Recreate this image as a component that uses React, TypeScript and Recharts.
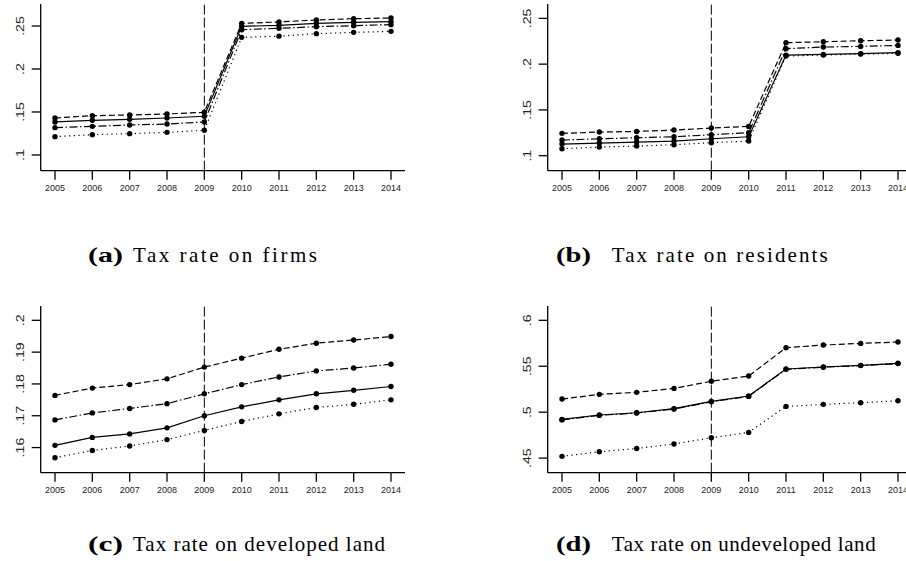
/*
 * Four small panels of municipal tax rates, 2005-2014, with the 2009 reform marked.
 * Stata-like styling drawn with Recharts.
 */
import { LineChart, Line, XAxis, YAxis, ReferenceLine } from 'recharts';

const years = [2005, 2006, 2007, 2008, 2009, 2010, 2011, 2012, 2013, 2014];

// (a) firms
const firmsDash = [0.143, 0.1457, 0.1465, 0.1477, 0.1496, 0.2531, 0.2547, 0.257, 0.2585, 0.2593];
const firmsSolid = [0.1384, 0.1403, 0.1415, 0.143, 0.145, 0.2496, 0.2508, 0.2531, 0.2543, 0.255];
const firmsDashDot = [0.1318, 0.1333, 0.1349, 0.136, 0.1384, 0.2457, 0.2473, 0.2492, 0.2504, 0.2516];
const firmsDot = [0.1213, 0.1236, 0.1248, 0.1263, 0.1287, 0.2368, 0.2382, 0.2411, 0.2426, 0.2438];

// (b) residents
const resDash = [0.1244, 0.1258, 0.1265, 0.128, 0.1302, 0.132, 0.2234, 0.2245, 0.2256, 0.2263];
const resDashDot = [0.1171, 0.1185, 0.1196, 0.1207, 0.1229, 0.1251, 0.2169, 0.2187, 0.2194, 0.2205];
const resSolid = [0.1127, 0.1138, 0.1149, 0.116, 0.1185, 0.1207, 0.2099, 0.2107, 0.2114, 0.2125];
const resDot = [0.1076, 0.1094, 0.1105, 0.112, 0.1142, 0.116, 0.2088, 0.2099, 0.211, 0.2118];

// (c) developed land
const devDash = [0.1764, 0.1787, 0.1798, 0.1816, 0.1853, 0.1881, 0.1909, 0.1928, 0.1938, 0.1949];
const devDashDot = [0.1687, 0.1709, 0.1723, 0.1738, 0.1769, 0.1798, 0.1822, 0.1841, 0.185, 0.1862];
const devSolid = [0.1607, 0.1632, 0.1643, 0.1662, 0.17, 0.1728, 0.175, 0.1769, 0.178, 0.1792];
const devDot = [0.1568, 0.1591, 0.1605, 0.1625, 0.1654, 0.1682, 0.1706, 0.1726, 0.1736, 0.175];

// (d) undeveloped land
const undevDash = [0.5143, 0.5194, 0.5216, 0.5259, 0.5336, 0.5394, 0.5702, 0.5731, 0.5749, 0.5764];
const undevSolid = [0.4921, 0.4969, 0.4994, 0.5038, 0.5118, 0.5176, 0.547, 0.5492, 0.551, 0.5532];
const undevDashDot = [0.4916, 0.4965, 0.4991, 0.5034, 0.5113, 0.5172, 0.5466, 0.549, 0.5507, 0.5529];
const undevDot = [0.4519, 0.4569, 0.4605, 0.4653, 0.4722, 0.478, 0.5063, 0.5085, 0.5103, 0.5125];

const ticksA = [0.1, 0.15, 0.2, 0.25];
const ticksC = [0.16, 0.17, 0.18, 0.19, 0.2];
const ticksD = [0.45, 0.5, 0.55, 0.6];

const SANS = '"Liberation Sans", Arial, sans-serif';
const SERIF = '"Liberation Serif", "Times New Roman", serif';

const build = (dash: number[], solid: number[], dashDot: number[], dot: number[]) =>
  years.map((year, i) => ({ year, dash: dash[i], solid: solid[i], dashDot: dashDot[i], dot: dot[i] }));

const fmt = (v: number) => String(+v.toFixed(3)).replace(/^0/, '');

const YTick = (props: any) => {
  const { x, y, payload } = props;
  return (
    <text
      transform={`translate(${x - 6},${y}) rotate(-90) scale(1.35,1)`}
      textAnchor="middle"
      fontSize={10.5}
      fontFamily={SANS}
      fill="#222"
    >
      {fmt(payload.value)}
    </text>
  );
};

const series = [
  { key: 'dash', dash: '6 3' },
  { key: 'solid', dash: undefined },
  { key: 'dashDot', dash: '8 2.5 1.5 2.5' },
  { key: 'dot', dash: '1.2 3.5' },
];

interface PanelProps {
  data: ReturnType<typeof build>;
  domain: [number, number];
  ticks: number[];
  left: number;
  top: number;
}

function Panel({ data, domain, ticks, left, top }: PanelProps) {
  return (
    <div style={{ position: 'absolute', left, top }}>
      <LineChart width={410} height={200} data={data} margin={{ top: 4, right: 5, left: 0, bottom: 0 }}>
        <XAxis
          dataKey="year"
          type="number"
          domain={[2004.617, 2014.375]}
          ticks={years}
          allowDataOverflow
          interval={0}
          height={29.3}
          tickSize={9}
          tickMargin={5}
          stroke="#000"
          strokeWidth={1.3}
          tick={{ fontSize: 9, fill: '#222', fontFamily: SANS }}
        />
        <YAxis
          type="number"
          domain={domain}
          ticks={ticks}
          allowDataOverflow
          width={40.7}
          tickSize={9}
          tickMargin={2}
          stroke="#000"
          strokeWidth={1.3}
          tick={<YTick />}
        />
        <ReferenceLine x={2009} stroke="#000" strokeWidth={1} strokeDasharray="10 3" />
        {series.map((s) => (
          <Line
            key={s.key}
            type="linear"
            dataKey={s.key}
            stroke="#000"
            strokeWidth={1.2}
            strokeDasharray={s.dash}
            dot={{ r: 2.7, fill: '#000', stroke: '#000', strokeWidth: 0, strokeDasharray: '' }}
            isAnimationActive={false}
          />
        ))}
      </LineChart>
    </div>
  );
}

const captions = [
  { tag: '(a)', text: 'Tax rate on firms', x: 88, tx: 133, w: 184, y: 262 },
  { tag: '(b)', text: 'Tax rate on residents', x: 556, tx: 611.7, w: 216, y: 262 },
  { tag: '(c)', text: 'Tax rate on developed land', x: 88, tx: 133, w: 252, y: 551 },
  { tag: '(d)', text: 'Tax rate on undeveloped land', x: 556, tx: 611.7, w: 264, y: 551 },
];

export default function App() {
  return (
    <div
      style={{
        position: 'absolute',
        left: 0,
        top: 0,
        width: 906,
        height: 561,
        overflow: 'hidden',
        background: '#fff',
      }}
    >
      <Panel data={build(firmsDash, firmsSolid, firmsDashDot, firmsDot)} domain={[0.0817, 0.2756]} ticks={ticksA} left={0} top={0} />
      <Panel data={build(resDash, resSolid, resDashDot, resDot)} domain={[0.0836, 0.2657]} ticks={ticksA} left={506.6} top={0} />
      <Panel data={build(devDash, devSolid, devDashDot, devDot)} domain={[0.1521, 0.2045]} ticks={ticksC} left={0} top={301.7} />
      <Panel data={build(undevDash, undevSolid, undevDashDot, undevDot)} domain={[0.4341, 0.6156]} ticks={ticksD} left={506.6} top={301.7} />
      <svg width={906} height={561} style={{ position: 'absolute', left: 0, top: 0, pointerEvents: 'none' }}>
        {captions.map((c) => (
          <g key={c.tag} fontFamily={SERIF} fontSize={21} fill="#000">
            <text x={c.x} y={c.y} fontWeight="bold" textLength={35} lengthAdjust="spacingAndGlyphs">
              {c.tag}
            </text>
            <text x={c.tx} y={c.y} textLength={c.w} lengthAdjust="spacing">
              {c.text}
            </text>
          </g>
        ))}
      </svg>
    </div>
  );
}
